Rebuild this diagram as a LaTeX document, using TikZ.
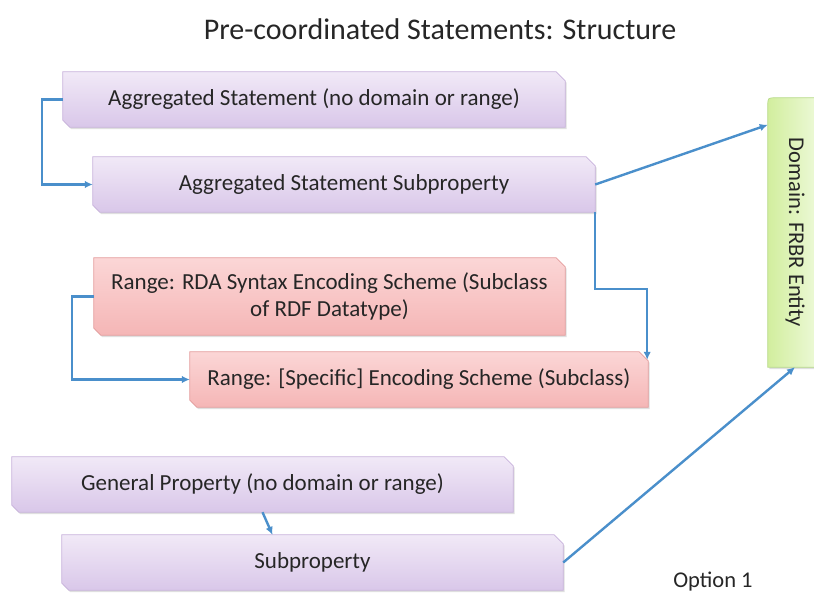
\documentclass[tikz,border=0pt]{standalone}
\usepackage{fontspec}
\setmainfont{Carlito}
\usetikzlibrary{shadows,arrows.meta,calc,backgrounds}
\definecolor{conn}{HTML}{4A8FCB}
\definecolor{txt}{HTML}{262626}
\definecolor{purT}{HTML}{F1E9F7}
\definecolor{purB}{HTML}{D9C7E9}
\definecolor{purD}{HTML}{C8B2DC}
\definecolor{redT}{HTML}{FBD6D6}
\definecolor{redB}{HTML}{F5B6B6}
\definecolor{redD}{HTML}{E59C9C}
\definecolor{grnL}{HTML}{D2EE9E}
\definecolor{grnR}{HTML}{EFFADD}
\definecolor{grnD}{HTML}{B6DA86}
\newcommand\chbox[2]{%
  \path[#2] (#1.north west) -- ($(#1.north east)+(-9,0)$) -- ($(#1.north east)+(0,9)$)
    -- (#1.south east) -- ($(#1.south west)+(7,0)$) -- ($(#1.south west)+(0,-7)$) -- cycle;}
\begin{document}
\begin{tikzpicture}[x=1pt,y=-1pt,
  boxn/.style={rectangle, inner sep=0pt, text=txt, font=\fontsize{23}{27}\selectfont, align=center},
  shad/.style={drop shadow={shadow xshift=1.5pt, shadow yshift=-2pt, opacity=0.25}},
  purp/.style={shad, top color=purT, bottom color=purB, draw=purD, line width=0.7pt},
  reds/.style={shad, top color=redT, bottom color=redB, draw=redD, line width=0.7pt},
  link/.style={draw=conn, line width=2.4pt, -{Latex[length=8pt,width=7.5pt]}}]
\useasboundingbox (0,0) rectangle (814,594);
\clip (0,0) rectangle (814,594);

\node[text=txt, font=\fontsize{30}{36}\selectfont] (title) at (440,29) {Pre-coordinated Statements: Structure};

\node[boxn, minimum width=502pt, minimum height=55pt] (A) at (314,99.5) {Aggregated Statement (no domain or range)};
\node[boxn, minimum width=502pt, minimum height=55pt] (B) at (344,184.5) {Aggregated Statement Subproperty};
\node[boxn, minimum width=471pt, minimum height=77pt] (C) at (329.5,296.5) {Range: RDA Syntax Encoding Scheme (Subclass\\of RDF Datatype)};
\node[boxn, minimum width=458pt, minimum height=55pt] (D) at (419,379.5) {Range: [Specific] Encoding Scheme (Subclass)};
\node[boxn, minimum width=501pt, minimum height=55pt] (E) at (262.5,484.5) {General Property (no domain or range)};
\node[boxn, minimum width=501pt, minimum height=55pt] (F) at (312.5,562.5) {Subproperty};
\node[boxn, minimum width=54pt, minimum height=269pt] (Dom) at (795,232.5) {};
\node[text=txt, font=\fontsize{22.5}{27}\selectfont, rotate=-90] (domt) at (Dom.center) {Domain: FRBR Entity};
\node[text=txt, font=\fontsize{22.5}{27}\selectfont] (opt) at (713,582) {Option 1};

\begin{pgfonlayer}{background}
\fill[white] (0,0) rectangle (814,594);
\chbox{A}{purp}
\chbox{B}{purp}
\chbox{C}{reds}
\chbox{D}{reds}
\chbox{E}{purp}
\chbox{F}{purp}
\path[shad, left color=grnL, right color=grnR, draw=grnD, line width=0.7pt]
  (Dom.south west) -- ($(Dom.north west)+(0,8)$) .. controls (Dom.north west) .. ($(Dom.north west)+(8,0)$)
  -- (Dom.north east) -- (Dom.south east) -- cycle;
\end{pgfonlayer}

\draw[link] (A.west) -- ++(-21,0) |- (B.west);
\draw[link] (C.west) -- ++(-22,0) |- (D.west);
\draw[link] (B.south east) -- ++(0,77) -| ($(D.north east)+(-1,8)$);
\draw[link] (E.south) -- ([xshift=10pt]E.south |- F.north);
\draw[link] (B.east) -- ([yshift=-27pt]Dom.north west);
\draw[link] (F.east) -- (Dom.south);
\end{tikzpicture}
\end{document}
